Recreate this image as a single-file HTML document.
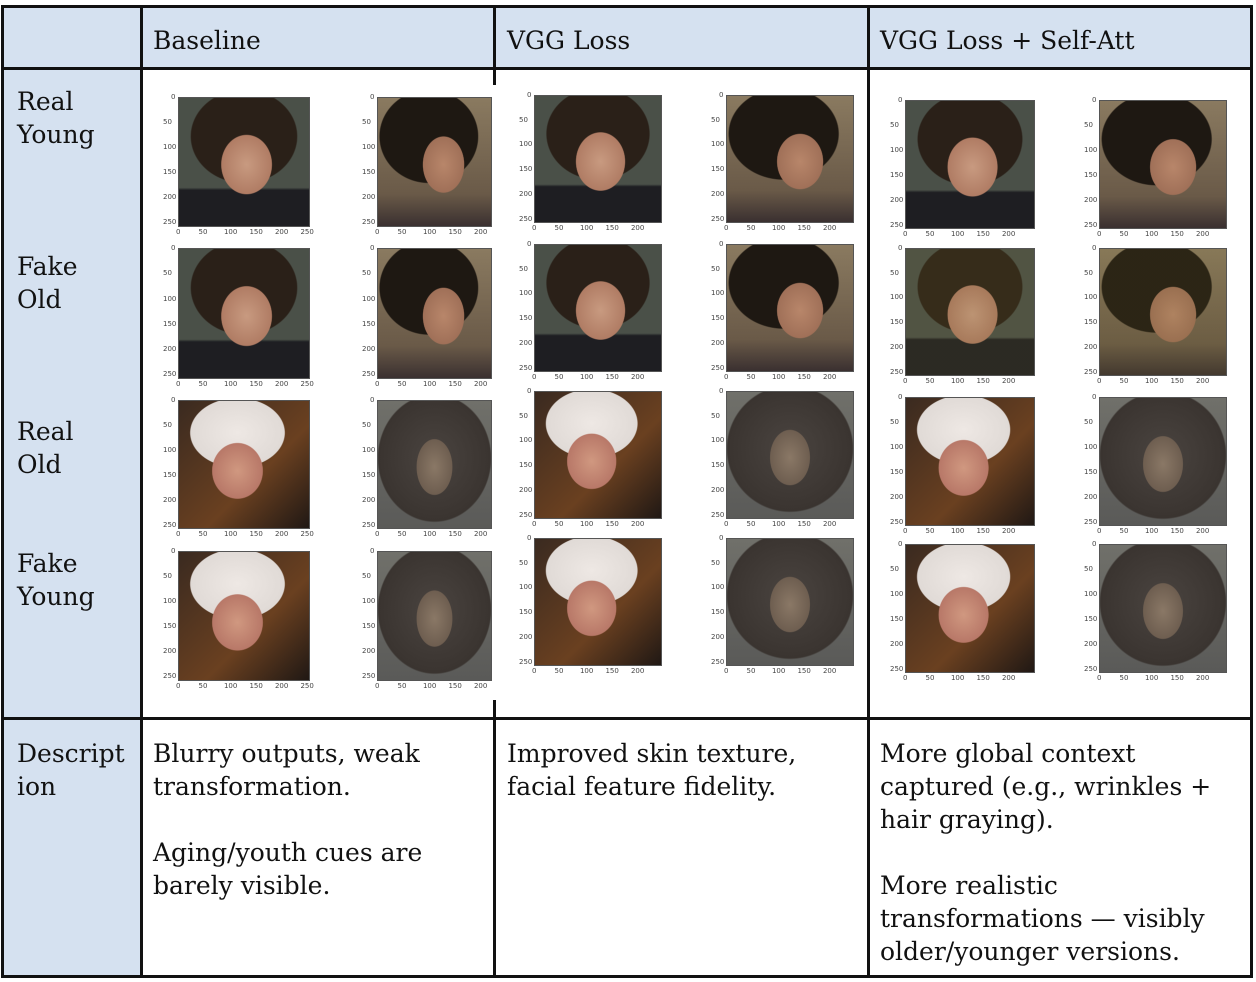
<!DOCTYPE html>
<html><head><meta charset="utf-8">
<style>
body{margin:0;width:1256px;height:982px;background:#fff;position:relative;overflow:hidden;font-family:"DejaVu Serif","Liberation Serif",serif;}
.a{position:absolute;}
.bg{background:#d5e1f0;}
.l{position:absolute;background:#111;}
.t{position:absolute;font-size:25px;line-height:33px;color:#111;white-space:nowrap;}
.img{position:absolute;border:1px solid #555;}
.tk{position:absolute;font-family:"DejaVu Sans",sans-serif;font-size:7px;color:#444;white-space:nowrap;}
</style></head><body>
<div class="a bg" style="left:2px;top:5px;width:1250px;height:63px"></div>
<div class="a bg" style="left:2px;top:68px;width:139px;height:909px"></div>
<!-- lines -->
<div class="l" style="left:2px;top:5px;width:1251px;height:3px"></div>
<div class="l" style="left:2px;top:975px;width:1251px;height:3px"></div>
<div class="l" style="left:2px;top:67px;width:1251px;height:3px"></div>
<div class="l" style="left:2px;top:717px;width:1251px;height:3px"></div>
<div class="l" style="left:1px;top:5px;width:3px;height:973px"></div>
<div class="l" style="left:1250px;top:5px;width:3px;height:973px"></div>
<div class="l" style="left:140px;top:5px;width:3px;height:973px"></div>
<div class="l" style="left:867px;top:5px;width:3px;height:973px"></div>
<div class="l" style="left:493px;top:5px;width:3px;height:80px"></div>
<div class="l" style="left:493px;top:700px;width:3px;height:278px"></div>

<div class="t" style="left:153px;top:24px">Baseline</div>
<div class="t" style="left:507px;top:24px">VGG Loss</div>
<div class="t" style="left:880px;top:24px">VGG Loss + Self-Att</div>

<div class="t" style="left:17px;top:85px">Real<br>Young</div>
<div class="t" style="left:17px;top:250px">Fake<br>Old</div>
<div class="t" style="left:17px;top:415px">Real<br>Old</div>
<div class="t" style="left:17px;top:547px">Fake<br>Young</div>
<div class="t" style="left:17px;top:737px">Descript<br>ion</div>

<div class="t" style="left:153px;top:737px">Blurry outputs, weak<br>transformation.<br><br>Aging/youth cues are<br>barely visible.</div>
<div class="t" style="left:507px;top:737px">Improved skin texture,<br>facial feature fidelity.</div>
<div class="t" style="left:880px;top:737px">More global context<br>captured (e.g., wrinkles +<br>hair graying).<br><br>More realistic<br>transformations — visibly<br>older/younger versions.</div>

<div id="imgs"></div>
<script>
var faces={
 y1:"radial-gradient(ellipse 32% 38% at 52% 52%,#c89a80 0%,#b07c64 60%,transparent 62%),radial-gradient(ellipse 45% 40% at 50% 30%,#2a2018 0%,#2a2018 90%,transparent 92%),linear-gradient(#4a5048,#4a5048 70%,#1e1e22 72%,#1e1e22)",
 y2:"radial-gradient(ellipse 30% 36% at 58% 52%,#b8866a 0%,#a07058 60%,transparent 62%),radial-gradient(ellipse 48% 40% at 45% 30%,#1e1812 0%,#1e1812 90%,transparent 92%),linear-gradient(#8a7a60,#6a5a48 75%,#3a3030)",
 o1:"radial-gradient(ellipse 32% 36% at 45% 55%,#d09880 0%,#b87868 60%,transparent 62%),radial-gradient(ellipse 40% 30% at 45% 25%,#eee8e4 0%,#e0dad6 90%,transparent 92%),linear-gradient(135deg,#3a2a20,#6a4020 60%,#201814)",
 o2:"radial-gradient(ellipse 26% 36% at 50% 52%,#8a7866 0%,#6e5e50 60%,transparent 62%),radial-gradient(ellipse 55% 55% at 50% 45%,#4a4440 0%,#3a3430 90%,transparent 92%),linear-gradient(#70706a,#5a5a58)"
};
var cols=[
 {x:[178,377],w:[130,113],ys:[97,248,400,551],h:[128,129,127,128]},
 {x:[534,726],w:[126,126],ys:[95,244,391,538],h:[126,126,126,126]},
 {x:[905,1099],w:[128,126],ys:[100,248,397,544],h:[127,126,127,127]}
];
var kinds=[["y1","y2"],["y1","y2"],["o1","o2"],["o1","o2"]];
var out="";
cols.forEach(function(c,ci){
 c.ys.forEach(function(y,ri){
  for(var k=0;k<2;k++){
   var x=c.x[k],w=c.w[k],h=c.h[ri];
   var bg=faces[kinds[ri][k]];
   if(ri==1&&ci==2)bg="linear-gradient(rgba(120,110,40,.15),rgba(120,110,40,.15)),"+bg;
   out+='<div class="img" style="left:'+x+'px;top:'+y+'px;width:'+w+'px;height:'+h+'px;background:'+bg+'"></div>';
   for(var i=0;i<=5;i++){
    var yy=y+i*h/5.1-4;
    out+='<div class="tk" style="left:'+(x-(i==0?7:15))+'px;top:'+yy+'px">'+(i*50)+'</div>';
    var xx=x+i*130/5.1;
    if(xx<x+w-2)out+='<div class="tk" style="left:'+(xx-(i==0?2:5))+'px;top:'+(y+h+3)+'px">'+(i*50)+'</div>';
   }
  }
 });
});
document.getElementById("imgs").innerHTML=out;
</script>
</body></html>
